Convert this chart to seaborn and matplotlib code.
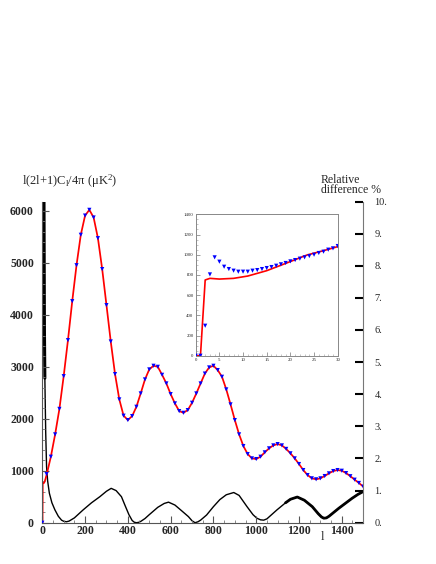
import numpy as np
import pandas as pd
import seaborn as sns
import matplotlib
matplotlib.use("Agg")
import matplotlib.pyplot as plt
from matplotlib.ticker import MultipleLocator

# ---------------- data ----------------
ell_pts = list(range(0, 1501, 20))
cl_pts = [0, 936, 1270, 1700, 2190, 2820, 3513, 4263, 4955, 5540,
          5910, 6020, 5873, 5475, 4880, 4187, 3488, 2860, 2373, 2060,
          1975, 2052, 2231, 2488, 2757, 2950, 3020, 3000, 2846, 2680,
          2475, 2296, 2148, 2115, 2167, 2308, 2488, 2680, 2870, 2988,
          3020, 2937, 2808, 2565, 2277, 1975, 1700, 1475, 1321, 1238,
          1225, 1270, 1354, 1431, 1488, 1513, 1488, 1420, 1335, 1238,
          1129, 1013, 917, 854, 835, 854, 898, 950, 994, 1013,
          1000, 955, 895, 828, 765, 695]

ell_th = [0, 1, 2, 3, 5, 8, 11, 15, 19] + list(range(20, 1501, 20))
cl_th = [0, 0, 757, 768, 760, 765, 789, 842, 905] + \
        [915] + cl_pts[2:]

ell_diff = [2, 5, 8, 10, 12, 16, 20, 25, 33, 45, 59, 75, 90, 100, 113, 125,
            150, 191, 230, 269, 300, 322, 345, 370, 386, 405, 420, 430, 440,
            450, 460, 480, 500, 540, 570, 590, 620, 650, 683, 700, 714, 728,
            740, 768, 800, 830, 860, 895, 920, 957, 985, 1003, 1020, 1035,
            1050, 1060, 1097, 1137, 1160, 1192, 1225, 1262, 1290, 1305, 1316,
            1328, 1340, 1386, 1420, 1448, 1475, 1500]
rel_diff = [40, 20, 10, 6, 4.5, 2.8, 1.74, 1.3, 0.92, 0.62, 0.40, 0.20, 0.08,
            0.045, 0.03, 0.05, 0.15, 0.40, 0.62, 0.81, 0.98, 1.07, 1.0, 0.81,
            0.55, 0.25, 0.07, 0.015, 0.0, 0.01, 0.04, 0.13, 0.25, 0.48, 0.60,
            0.64, 0.55, 0.38, 0.19, 0.06, 0.0, 0.03, 0.08, 0.24, 0.50, 0.72,
            0.87, 0.94, 0.85, 0.50, 0.25, 0.14, 0.09, 0.08, 0.12, 0.18, 0.40,
            0.62, 0.73, 0.80, 0.70, 0.50, 0.28, 0.18, 0.14, 0.15, 0.20, 0.45,
            0.62, 0.76, 0.88, 0.97]

ell_in = list(range(0, 31))
cl_in_pts = [0, 0, 297, 805, 974, 931, 881, 858, 842, 832, 832, 832, 842,
             848, 858, 868, 878, 891, 905, 918, 934, 947, 961, 974, 987,
             1000, 1017, 1030, 1050, 1063, 1086]
ell_in_th = [0, 1, 2, 3, 5, 8, 11, 15, 19, 23.5, 27, 30]
cl_in_th = [0, 0, 750, 766, 759, 766, 789, 842, 914, 997, 1040, 1080]

left_ticks = [0, 1000, 2000, 3000, 4000, 5000, 6000]
right_ticks = list(range(0, 11))
right_labels = [f"{t}." for t in right_ticks]
x_ticks = [0, 200, 400, 600, 800, 1000, 1200, 1400]

# ---------------- style ----------------
sns.set_theme(style="white")
plt.rcParams["font.family"] = ["Liberation Serif", "DejaVu Serif"]
plt.rcParams["mathtext.fontset"] = "custom"
plt.rcParams["mathtext.rm"] = "Liberation Serif"
plt.rcParams["mathtext.it"] = "Liberation Serif:italic"

fig = plt.figure(figsize=(4.36, 5.64), dpi=100)
ax = fig.add_axes([0.097, 0.0732, 0.736, 0.5695])
ax2 = ax.twinx()

df_th = pd.DataFrame({"l": ell_th, "cl": cl_th})
df_pts = pd.DataFrame({"l": ell_pts, "cl": cl_pts})
df_diff = pd.DataFrame({"l": ell_diff, "d": rel_diff})

sns.lineplot(data=df_diff, x="l", y="d", ax=ax2, color="black", lw=1.0,
             sort=False)
sns.lineplot(data=df_diff[df_diff["l"] <= 12], x="l", y="d", ax=ax2,
             color="black", lw=2.2, sort=False)
sns.lineplot(data=df_diff[df_diff["l"] >= 1130], x="l", y="d", ax=ax2,
             color="black", lw=2.0, sort=False)
sns.lineplot(data=df_th, x="l", y="cl", ax=ax, color="#ff0000", lw=1.25,
             sort=False)
sns.scatterplot(data=df_pts, x="l", y="cl", ax=ax, color="#0000ff",
                marker="v", s=9, edgecolor="none", linewidth=0, zorder=5)

# main axes formatting
ax.set_xlim(0, 1500)
ax.set_ylim(0, 6180)
ax2.set_ylim(0, 10)
ax.set_zorder(ax2.get_zorder() + 1)
ax.patch.set_visible(False)

ax.set_xticks(x_ticks)
ax.set_xticklabels([str(t) for t in x_ticks], fontweight="bold", fontsize=8.5)
ax.set_yticks(left_ticks)
ax.set_yticklabels([str(t) for t in left_ticks], fontweight="bold",
                   fontsize=8.5)
ax.xaxis.set_minor_locator(MultipleLocator(50))
ax.yaxis.set_minor_locator(MultipleLocator(200))
ax.tick_params(axis="both", which="major", direction="in", length=5,
               width=0.8, color="#555555", bottom=True, left=True)
ax.tick_params(axis="both", which="minor", direction="in", length=2.5,
               width=0.6, color="#777777", bottom=True, left=True)
ax.tick_params(axis="x", which="major", pad=2)
ax.tick_params(axis="y", which="major", pad=6)
ax.set_xlabel("")
ax.set_ylabel("")
for s in ["top", "right"]:
    ax.spines[s].set_visible(False)
for s in ["left", "bottom"]:
    ax.spines[s].set_color("#555555")
    ax.spines[s].set_linewidth(0.8)

ax2.set_yticks(right_ticks)
ax2.set_yticklabels(right_labels, fontsize=7.5)
ax2.tick_params(axis="y", which="major", direction="in", length=6,
                width=1.5, color="black", right=True, pad=8)
ax2.set_ylabel("")
ax2.set_xlabel("")
for s in ["top", "left", "bottom"]:
    ax2.spines[s].set_visible(False)
ax2.spines["right"].set_color("#777777")
ax2.spines["right"].set_linewidth(0.8)

# titles / labels
fig.text(22 / 436, 1 - 181 / 564,
         r"l(2l+1)C$_\mathrm{l}$/4π (μK$^2$)", fontsize=9, ha="left",
         va="center")
fig.text(321 / 436, 1 - 185 / 564, "Relative\ndifference %", fontsize=8.5,
         ha="left", va="center", linespacing=0.8)
fig.text(322 / 436, 1 - 537 / 564, "l", fontsize=9, ha="center",
         va="center")

# inset
axi = fig.add_axes([0.4489, 0.3693, 0.3257, 0.2507])
df_in = pd.DataFrame({"l": ell_in, "cl": cl_in_pts})
df_in_th = pd.DataFrame({"l": ell_in_th, "cl": cl_in_th})
sns.lineplot(data=df_in_th, x="l", y="cl", ax=axi, color="#ff0000", lw=1.2,
             sort=False)
sns.scatterplot(data=df_in, x="l", y="cl", ax=axi, color="#0000ff",
                marker="v", s=9, edgecolor="none", linewidth=0, zorder=5)
axi.set_xlim(0, 30)
axi.set_ylim(0, 1400)
axi.set_xticks([0, 5, 10, 15, 20, 25, 30])
axi.set_xticklabels(["0", "5", "10", "15", "20", "25", "30"], fontsize=3.5)
axi.set_yticks([0, 200, 400, 600, 800, 1000, 1200, 1400])
axi.set_yticklabels(["0", "200", "400", "600", "800", "1000", "1200",
                     "1400"], fontsize=3.5)
axi.xaxis.set_minor_locator(MultipleLocator(1))
axi.yaxis.set_minor_locator(MultipleLocator(50))
axi.tick_params(axis="both", which="major", direction="in", length=3,
                width=0.5, color="#777777", pad=1.5, bottom=True, left=True)
axi.tick_params(axis="both", which="minor", direction="in", length=1.5,
                width=0.4, color="#999999", bottom=True, left=True)
axi.set_xlabel("")
axi.set_ylabel("")
for s in axi.spines.values():
    s.set_color("#888888")
    s.set_linewidth(0.7)
axi.patch.set_facecolor("white")

fig.savefig("out.png", dpi=100)
